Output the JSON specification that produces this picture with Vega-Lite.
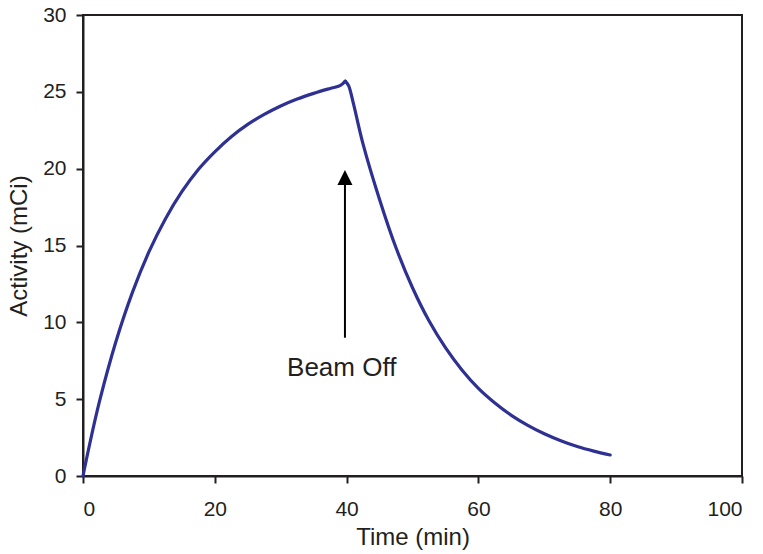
{
  "$schema": "https://vega.github.io/schema/vega-lite/v6.json",
  "width": 659,
  "height": 461,
  "autosize": {"type": "none"},
  "padding": {"left": 83, "top": 15, "right": 21, "bottom": 78},
  "background": "white",
  "config": {
    "font": "Liberation Sans",
    "view": {"stroke": "#231f20", "strokeWidth": 2},
    "axis": {
      "grid": false,
      "domainColor": "#231f20",
      "domainWidth": 2,
      "tickColor": "#231f20",
      "tickWidth": 2,
      "tickSize": 7,
      "labelFont": "Liberation Sans",
      "labelFontSize": 21,
      "labelColor": "#231f20",
      "titleFont": "Liberation Sans",
      "titleFontSize": 24,
      "titleFontWeight": "normal",
      "titleColor": "#231f20"
    }
  },
  "layer": [
    {
      "data": {"values": [
        {"phase": "on", "t": 0, "a": 0},
        {"phase": "on", "t": 1, "a": 2.05},
        {"phase": "on", "t": 2.5, "a": 4.85},
        {"phase": "on", "t": 5, "a": 8.75},
        {"phase": "on", "t": 7.5, "a": 11.95},
        {"phase": "on", "t": 10, "a": 14.58},
        {"phase": "on", "t": 12.5, "a": 16.73},
        {"phase": "on", "t": 15, "a": 18.5},
        {"phase": "on", "t": 17.5, "a": 19.95},
        {"phase": "on", "t": 20, "a": 21.1},
        {"phase": "on", "t": 22.5, "a": 22.08},
        {"phase": "on", "t": 25, "a": 22.88},
        {"phase": "on", "t": 27.5, "a": 23.53},
        {"phase": "on", "t": 30, "a": 24.08},
        {"phase": "on", "t": 32.5, "a": 24.53},
        {"phase": "on", "t": 35, "a": 24.9},
        {"phase": "on", "t": 37.5, "a": 25.22},
        {"phase": "on", "t": 39, "a": 25.4},
        {"phase": "on", "t": 39.8, "a": 25.7},
        {"phase": "off", "t": 39.8, "a": 25.7},
        {"phase": "off", "t": 40.3, "a": 25.4},
        {"phase": "off", "t": 41, "a": 24.3},
        {"phase": "off", "t": 42.5, "a": 21.6},
        {"phase": "off", "t": 45, "a": 18.0},
        {"phase": "off", "t": 47.5, "a": 14.85},
        {"phase": "off", "t": 50, "a": 12.25},
        {"phase": "off", "t": 52.5, "a": 10.1},
        {"phase": "off", "t": 55, "a": 8.35},
        {"phase": "off", "t": 57.5, "a": 6.9},
        {"phase": "off", "t": 60, "a": 5.7},
        {"phase": "off", "t": 62.5, "a": 4.75},
        {"phase": "off", "t": 65, "a": 3.95},
        {"phase": "off", "t": 67.5, "a": 3.3},
        {"phase": "off", "t": 70, "a": 2.75},
        {"phase": "off", "t": 72.5, "a": 2.3},
        {"phase": "off", "t": 75, "a": 1.92},
        {"phase": "off", "t": 77.5, "a": 1.62},
        {"phase": "off", "t": 80, "a": 1.37}
      ]},
      "mark": {"type": "line", "color": "#2e3192", "strokeWidth": 3.2, "interpolate": "catmull-rom", "strokeJoin": "round", "strokeCap": "round"},
      "encoding": {
        "detail": {"field": "phase", "type": "nominal"},
        "x": {"field": "t", "type": "quantitative", "scale": {"domain": [0, 100], "nice": false},
          "axis": {"values": [0, 20, 40, 60, 80, 100], "title": "Time (min)", "labelPadding": 15, "titlePadding": 6}},
        "y": {"field": "a", "type": "quantitative", "scale": {"domain": [0, 30], "nice": false},
          "axis": {"values": [0, 5, 10, 15, 20, 25, 30], "title": "Activity (mCi)", "labelPadding": 10, "titlePadding": 11}}
      }
    },
    {
      "data": {"values": [{"t": 39.75, "a0": 9.0, "a1": 19.5}]},
      "mark": {"type": "rule", "color": "black", "strokeWidth": 2},
      "encoding": {
        "x": {"field": "t", "type": "quantitative"},
        "y": {"field": "a0", "type": "quantitative"},
        "y2": {"field": "a1"}
      }
    },
    {
      "data": {"values": [{"t": 39.75, "a": 19.42}]},
      "mark": {"type": "point", "shape": "M-1,1L0,-1L1,1Z", "size": 225, "filled": true, "color": "black", "opacity": 1},
      "encoding": {
        "x": {"field": "t", "type": "quantitative"},
        "y": {"field": "a", "type": "quantitative"}
      }
    },
    {
      "data": {"values": [{"t": 39.26, "a": 6.5, "label": "Beam Off"}]},
      "mark": {"type": "text", "fontSize": 26, "font": "Liberation Sans", "color": "#231f20", "align": "center", "baseline": "alphabetic"},
      "encoding": {
        "x": {"field": "t", "type": "quantitative"},
        "y": {"field": "a", "type": "quantitative"},
        "text": {"field": "label"}
      }
    }
  ]
}
